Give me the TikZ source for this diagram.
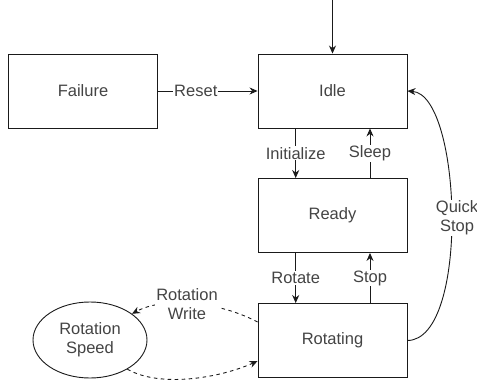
\documentclass[tikz,border=0pt]{standalone}
\usepackage{fontspec}
\setmainfont{Liberation Sans}
\usetikzlibrary{arrows.meta,shapes.geometric}
\definecolor{ink}{HTML}{1A1A1A}
\definecolor{txt}{HTML}{444444}
\begin{document}
\begin{tikzpicture}[x=1pt,y=-1pt,
  font=\fontsize{16.5}{19}\selectfont,
  state/.style={draw=ink,line width=0.9pt,minimum width=149pt,minimum height=74pt,text=txt,inner sep=0pt},
  conn/.style={draw=ink,line width=0.9pt,-{Stealth[length=8pt,width=7pt]}},
  dconn/.style={conn,dashed,dash pattern=on 3.5pt off 3.5pt},
  lbl/.style={fill=white,text=txt,inner sep=1pt,align=center}]
\useasboundingbox (0,0) rectangle (477,388);
\fill[white] (0,0) rectangle (477,388);

\node[state] (failure) at (83,91) {Failure};
\node[state] (idle) at (332.5,91) {Idle};
\node[state] (ready) at (332.5,215.5) {Ready};
\node[state] (rotating) at (332.5,340.5) {Rotating};
\node[ellipse,draw=ink,line width=0.9pt,minimum width=114pt,minimum height=76pt,inner sep=0pt,text=txt,align=center] (speed) at (90,340) {Rotation\\Speed};

\coordinate (start) at (332.5,0);
\draw[conn] (start) -- (idle.north);

\draw[conn] (failure.east) -- node[lbl,pos=0.38] {Reset} (idle.west);

\draw[conn] (idle.south -| 295.7,0) -- node[lbl,pos=0.5] {Initialize} (ready.north -| 295.7,0);
\draw[conn] (ready.north -| 370,0) -- node[lbl,pos=0.5] {Sleep} (idle.south -| 370,0);
\draw[conn] (ready.south -| 295.7,0) -- node[lbl,pos=0.5] {Rotate} (rotating.north -| 295.7,0);
\draw[conn] (rotating.north -| 370,0) -- node[lbl,pos=0.5] {Stop} (ready.south -| 370,0);

\draw[conn] (rotating.east) .. controls (470,340) and (462,95) .. (idle.east);
\node[lbl] (qs) at (457,218) {Quick\\Stop};

\draw[dconn] (rotating.west |- 0,322) .. controls (220,302) and (165,296) .. (speed.32);
\node[lbl] (rw) at (187,304) {Rotation\\Write};
\draw[dconn] (speed.-38) .. controls (160,388) and (220,378) .. (rotating.west |- 0,361);
\end{tikzpicture}
\end{document}
